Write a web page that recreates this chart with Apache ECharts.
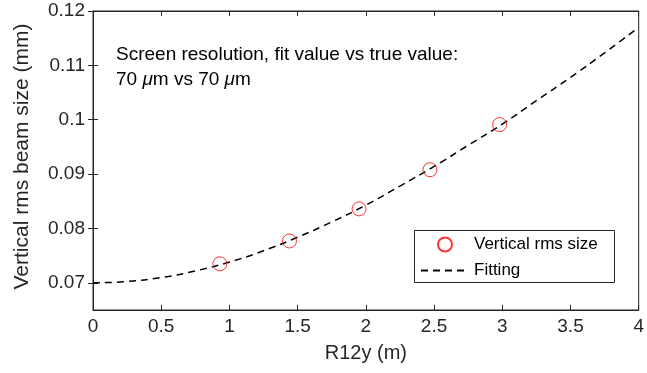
<!DOCTYPE html>
<html><head><meta charset="utf-8">
<script src="https://cdn.jsdelivr.net/npm/echarts@6/dist/echarts.min.js"></script>
<style>html,body{margin:0;padding:0;background:#fff}#c{width:647px;height:373px}</style>
</head><body><div id="c"></div>
<script>
const measX = [0.93, 1.44, 1.95, 2.47, 2.98];
const measY = [0.0735, 0.0777, 0.0836, 0.0908, 0.0991];
const fitX = [0, 0.25, 0.5, 0.75, 1.0, 1.25, 1.5, 1.75, 2.0, 2.25, 2.5, 2.75, 3.0, 3.25, 3.5, 3.75, 4.0];
const fitY = [0.0700, 0.07024, 0.07097, 0.07218, 0.07382, 0.0759, 0.0784, 0.0812, 0.0843, 0.0878, 0.0914, 0.0953, 0.0992, 0.1035, 0.1078, 0.1123, 0.1170];
const yTicks = [0.07, 0.08, 0.09, 0.10, 0.11, 0.12];
const seriesNames = ['Vertical rms size', 'Fitting'];
const xTitle = 'R12y (m)';
const yTitle = 'Vertical rms beam size (mm)';

const FONT = 'Liberation Sans, Arial, sans-serif';
const chart = echarts.init(document.getElementById('c'), null, {renderer: 'canvas'});
const axLine = {show: true, lineStyle: {color: '#262626', width: 1}};
const tick = {show: true, inside: true, length: 5, lineStyle: {color: '#262626'}};
const yTick = Object.assign({customValues: yTicks}, tick);
chart.setOption({
  animation: false,
  grid: {left: 93, right: 7, top: 11, bottom: 63, show: true, borderColor: '#262626', borderWidth: 1},
  xAxis: [{
    type: 'value', min: 0, max: 4, interval: 0.5,
    name: xTitle, nameLocation: 'middle', nameGap: 33,
    nameTextStyle: {fontFamily: FONT, fontSize: 20, color: '#262626'},
    axisLine: axLine, axisTick: tick, splitLine: {show: false},
    axisLabel: {fontFamily: FONT, fontSize: 19, color: '#262626', margin: 7, formatter: v => String(v)}
  }, {
    type: 'value', min: 0, max: 4, interval: 0.5, position: 'top',
    axisLine: axLine, axisTick: tick, axisLabel: {show: false}, splitLine: {show: false}
  }],
  yAxis: [{
    type: 'value', min: 0.065, max: 0.12,
    name: yTitle, nameLocation: 'middle', nameGap: 60,
    nameTextStyle: {fontFamily: FONT, fontSize: 21, color: '#262626', padding: [0, 0, 0, 8]},
    axisLine: axLine, axisTick: yTick, splitLine: {show: false},
    axisLabel: {fontFamily: FONT, fontSize: 19, color: '#262626', margin: 8, customValues: yTicks,
      formatter: v => String(+v.toFixed(2))}
  }, {
    type: 'value', min: 0.065, max: 0.12, position: 'right',
    axisLine: axLine, axisTick: yTick, axisLabel: {show: false}, splitLine: {show: false}
  }],
  legend: {
    orient: 'vertical', left: 414, top: 230, z: 10,
    padding: [6, 6, 6, 6], itemGap: 9,
    borderWidth: 0, backgroundColor: 'transparent',
    itemWidth: 48, itemHeight: 14,
    textStyle: {fontFamily: FONT, fontSize: 17, color: '#000'},
    data: [{name: seriesNames[0]}, {name: seriesNames[1], itemStyle: {opacity: 0}}]
  },
  series: [{
    name: seriesNames[1], type: 'line', xAxisIndex: 0, yAxisIndex: 0,
    data: fitX.map((x, i) => [x, fitY[i]]), smooth: true, symbol: 'none',
    itemStyle: {color: '#000'},
    lineStyle: {color: '#000', width: 1.5, type: [7, 5]}, z: 2
  }, {
    name: seriesNames[0], type: 'scatter', xAxisIndex: 0, yAxisIndex: 0,
    data: measX.map((x, i) => [x, measY[i]]), symbol: 'circle', symbolSize: 14,
    itemStyle: {color: 'rgba(255,255,255,0)', borderColor: '#ff0000', borderWidth: 1}, z: 3
  }],
  graphic: [{
    type: 'rect', z: 5, shape: {x: 414.5, y: 230.5, width: 200, height: 52},
    style: {fill: '#fff', stroke: '#262626', lineWidth: 1}
  }, {
    type: 'text', left: 116, top: 42,
    style: {
      text: 'Screen resolution, fit value vs true value:\n{a|70 }{i|μ}{a|m vs 70 }{i|μ}{a|m}',
      fontFamily: FONT, fontSize: 19, fill: '#000', lineHeight: 25,
      rich: {a: {fontFamily: FONT, fontSize: 19, fill: '#000', lineHeight: 25}, i: {fontFamily: FONT, fontSize: 19, fontStyle: 'italic', fill: '#000', lineHeight: 25}}
    }
  }]
});
</script></body></html>
